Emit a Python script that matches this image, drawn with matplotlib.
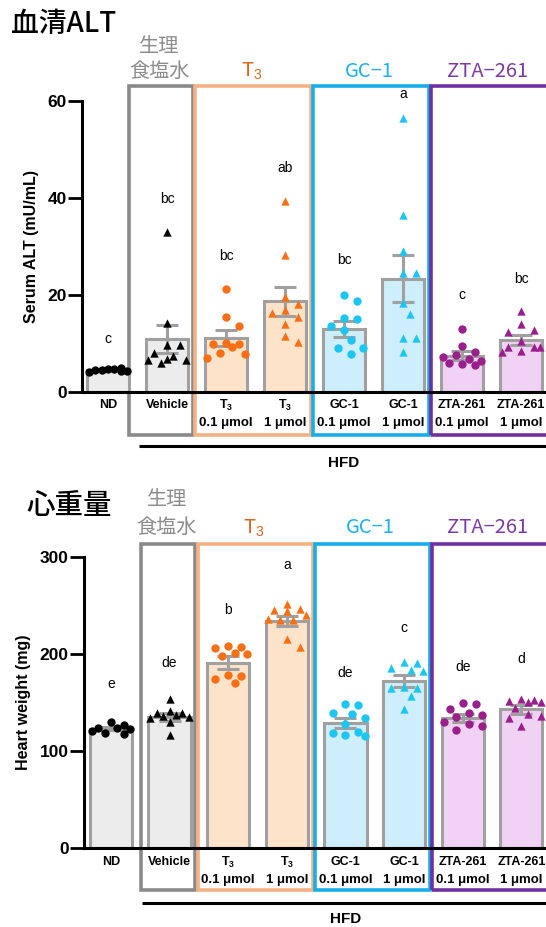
import numpy as np
import matplotlib.pyplot as plt
from matplotlib.patches import Rectangle

plt.rcParams['font.family'] = ['Liberation Sans', 'Noto Sans CJK JP']
plt.rcParams['mathtext.fontset'] = 'custom'
plt.rcParams['mathtext.rm'] = 'Liberation Sans'
plt.rcParams['mathtext.bf'] = 'Liberation Sans:bold'

# groups
names = ['ND', 'Vehicle', r'T$_\mathbf{3}$', r'T$_\mathbf{3}$', 'GC-1', 'GC-1', 'ZTA-261', 'ZTA-261']
doses = ['', '', '0.1 μmol', '1 μmol', '0.1 μmol', '1 μmol', '0.1 μmol', '1 μmol']
markers = ['o', '^', 'o', '^', 'o', '^', 'o', '^']
point_colors = ['#000000', '#000000', '#fa6e14', '#fa6e14', '#1cc6f2', '#1cc6f2', '#9a1f8c', '#9a1f8c']
bar_colors = ['#ececec', '#ececec', '#fde3c9', '#fde3c9', '#cdeefa', '#cdeefa', '#f0d2f5', '#f0d2f5']

# boxes around treatment groups: (first, last, box colour, header, header colour)
box_groups = [(1, 1, '#8a8a8a', '食塩水', '#8c8c8c'),
              (2, 3, '#f4b183', 'T$_3$', '#d9661f'),
              (4, 5, '#17aee8', 'GC−1', '#1bb1ee'),
              (6, 7, '#7030a0', 'ZTA−261', '#7b3aa6')]

# serum ALT (mU/mL)
alt_mean = [4.6, 11.0, 11.1, 18.7, 13.0, 23.4, 7.5, 10.7]
alt_sem = [0.15, 2.9, 1.6, 3.0, 1.6, 4.8, 0.9, 1.0]
alt_points = [
    [4.8, 4.9, 4.6, 4.3, 4.7, 4.2, 4.5, 4.4],
    [33.0, 14.3, 9.7, 9.6, 7.5, 8.1, 6.6, 6.0, 6.5, 6.8],
    [21.2, 15.5, 13.7, 10.2, 10.0, 10.0, 9.3, 8.1, 7.9, 7.1],
    [39.4, 28.2, 19.6, 18.2, 16.9, 16.3, 15.5, 14.1, 11.5, 10.3],
    [19.9, 18.7, 15.2, 15.0, 13.7, 12.8, 10.8, 9.0, 9.0, 7.9],
    [56.4, 36.4, 29.1, 24.6, 24.6, 18.3, 16.1, 11.1, 11.1, 8.3],
    [13.0, 9.5, 8.3, 7.6, 7.3, 6.9, 6.3, 6.0, 5.8, 5.6],
    [16.7, 14.0, 12.8, 12.3, 10.5, 9.3, 9.3, 9.2, 8.5, 8.3],
]
alt_letters = ['c', 'bc', 'bc', 'ab', 'bc', 'a', 'c', 'bc']
alt_letter_y = [11.0, 39.7, 28.0, 46.2, 27.2, 61.4, 19.9, 23.4]

# heart weight (mg)
heart_mean = [123, 135, 191, 234, 129, 172, 134, 143]
heart_sem = [1.5, 4.0, 6.5, 5.5, 5.5, 6.2, 4.4, 4.4]
heart_points = [
    [129.6, 126.8, 124.1, 123.4, 122.4, 120.7, 119.0, 117.6],
    [153.2, 141.6, 138.8, 138.8, 137.1, 136.0, 135.4, 134.4, 129.6, 116.6],
    [208.1, 207.4, 206.7, 201.2, 200.5, 198.2, 178.3, 177.2, 174.2, 169.7],
    [252.0, 246.8, 245.7, 244.4, 240.0, 236.0, 235.5, 234.8, 215.0, 207.4],
    [148.0, 147.4, 138.8, 138.1, 134.4, 127.5, 119.3, 118.9, 116.5, 115.5],
    [192.0, 190.4, 186.0, 183.5, 182.5, 166.3, 165.3, 165.3, 156.2, 143.2],
    [149.7, 148.0, 142.8, 139.5, 136.8, 135.1, 129.9, 127.5, 125.8, 121.2],
    [153.5, 152.5, 151.5, 150.2, 150.2, 144.3, 138.4, 135.7, 134.0, 125.4],
]
heart_letters = ['e', 'de', 'b', 'a', 'de', 'c', 'de', 'd']
heart_letter_y = [168.7, 191, 245, 291.4, 180.7, 226.5, 186.9, 194.6]

CJK = ['Noto Sans CJK JP', 'DejaVu Sans']


def swarm(ax, x0, vals, step=6.4, mind=11.0, maxk=3):
    # simple beeswarm in pixel space, returns x positions in data units
    t = ax.transData
    pxu = t.transform((1, 0))[0] - t.transform((0, 0))[0]
    placed = []
    xs = []
    cands = [0]
    for k in range(1, maxk + 1):
        cands += [k, -k]
    for v in vals:
        xp, yp = t.transform((x0, v))
        best, bestd = 0, -1
        for k in cands:
            cx = xp + k * step
            d = min([np.hypot(cx - a, yp - b) for a, b in placed] + [1e9])
            if d >= mind:
                best = k
                break
            if d > bestd:
                best, bestd = k, d
        placed.append((xp + best * step, yp))
        xs.append(x0 + best * step / pxu)
    return xs


def panel(ax, means, sems, points, letters, letter_y, ymax, yticks, ylabel,
          xlim, label_y, box_y, head_y, gray_left):
    x = np.arange(len(means))
    ax.set_xlim(*xlim)
    ax.set_ylim(0, ymax)
    ax.bar(x, means, width=0.72, color=bar_colors, edgecolor='#a0a0a0',
           linewidth=2.2, zorder=1)
    ax.errorbar(x, means, yerr=sems, fmt='none', ecolor='#a0a0a0',
                elinewidth=2.2, capsize=8, capthick=2.2, zorder=2)
    for i in x:
        xs = swarm(ax, i, points[i])
        ax.scatter(xs, points[i], s=36, marker=markers[i], color=point_colors[i],
                   linewidths=0, zorder=4, clip_on=False)
        ax.text(i, letter_y[i], letters[i], ha='center', va='center',
                fontsize=10, clip_on=False)
    for s in ['top', 'right']:
        ax.spines[s].set_visible(False)
    for s in ['left', 'bottom']:
        ax.spines[s].set_linewidth(2.2)
    ax.set_yticks(yticks)
    ax.tick_params(axis='y', length=10, width=2, pad=1, labelsize=12.5)
    for lab in ax.get_yticklabels():
        lab.set_fontweight('bold')
    ax.set_xticks([])
    ax.set_ylabel(ylabel, fontsize=11.5, fontweight='bold', labelpad=6)

    tr = ax.get_xaxis_transform()
    for i in x:
        ax.text(i, label_y[0], names[i], transform=tr, ha='center', va='center',
                fontsize=9.0, fontweight='bold')
        ax.text(i, label_y[1], doses[i], transform=tr, ha='center', va='center',
                fontsize=9.5, fontweight='bold')

    # group boxes and headers
    for a, b, ec, head, hc in box_groups:
        left = a - (gray_left if a == 1 else 0.52)
        right = b + 0.44 if b < 7 else b + 1.0
        ax.add_patch(Rectangle((left, box_y[0]), right - left, box_y[1] - box_y[0],
                               transform=tr, fill=False, edgecolor=ec, lw=2.6,
                               clip_on=False, zorder=0))
        cx = (left + min(right, b + 0.44)) / 2 - 0.03
        ax.text(cx, head_y[0], head, transform=tr, ha='center', va='center',
                fontsize=14.5, color=hc, family=CJK)
        if a == 1:
            ax.text(cx, head_y[1], '生理', transform=tr, ha='center', va='center',
                    fontsize=14.5, color=hc, family=CJK)

    # HFD bracket
    ax.plot([0.53, 8.0], [label_y[2]] * 2, transform=tr, color='black', lw=2.2,
            clip_on=False, solid_capstyle='butt')
    ax.text(4.0, label_y[3], 'HFD', transform=tr, ha='center', va='center',
            fontsize=11, fontweight='bold')


fig = plt.figure(figsize=(5.46, 9.27), dpi=100)

ax1 = fig.add_axes([82 / 546, 535 / 927, 464 / 546, 291 / 927])
panel(ax1, alt_mean, alt_sem, alt_points, alt_letters, alt_letter_y,
      60, [0, 20, 40, 60], 'Serum ALT (mU/mL)', (-0.44, 7.42),
      (-0.045, -0.107, -0.186, -0.244), (-0.148, 1.052), (1.103, 1.186), 0.64)

ax2 = fig.add_axes([84 / 546, 79 / 927, 462 / 546, 291 / 927])
panel(ax2, heart_mean, heart_sem, heart_points, heart_letters, heart_letter_y,
      300, [0, 100, 200, 300], 'Heart weight (mg)', (-0.46, 7.42),
      (-0.048, -0.11, -0.189, -0.244), (-0.144, 1.045), (1.10, 1.196), 0.48)

fig.text(11 / 546, 1 - 23 / 927, '血清ALT', fontsize=20, ha='left', va='center',
         fontweight='medium', family=CJK)
fig.text(26 / 546, 1 - 505 / 927, '心重量', fontsize=20.5, ha='left', va='center',
         fontweight='medium', family=CJK)

fig.savefig('out.png', dpi=100)
